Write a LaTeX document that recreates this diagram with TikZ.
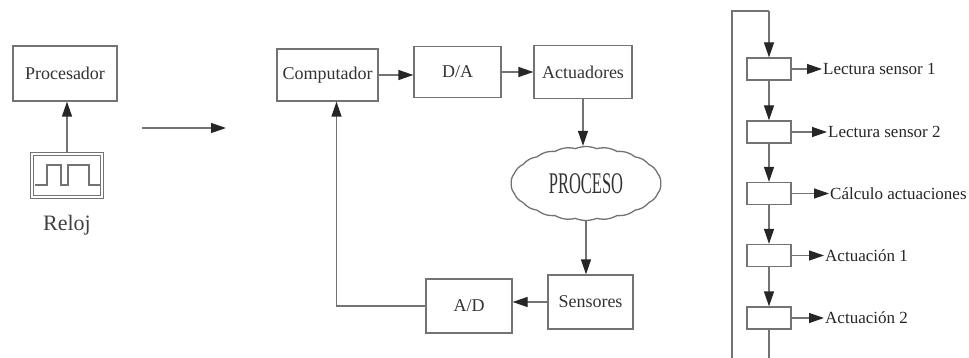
\documentclass[tikz,border=0pt]{standalone}
\usepackage{fontspec}
\setmainfont{Liberation Serif}
\usetikzlibrary{arrows.meta,shapes.symbols}
\begin{document}
\begin{tikzpicture}[x=1pt,y=-1pt,
  line/.style={draw=black!55,line width=1.3pt},
  arr/.style={line,-{Triangle[length=15pt,width=10pt,color=black!85,fill=black!85]}},
  blk/.style={line,inner sep=0pt,text=black!80,font=\fontsize{18}{20}\selectfont},
  sbox/.style={line,inner sep=0pt,minimum width=44pt,minimum height=22pt},
  lbl/.style={anchor=west,inner sep=1pt,text=black!85,font=\fontsize{17}{19}\selectfont}]
\useasboundingbox (0,0) rectangle (969,358);
% left part
\node[blk,minimum width=104pt,minimum height=55pt] (proc) at (65,73.5) {Procesador};
\node[line,double,double distance=1.6pt,minimum width=70pt,minimum height=43pt,inner sep=0pt] (clock) at (67,175.5) {};
\draw[line,line width=1.1pt] (35,185) -- (47,185) -- (47,165) -- (61,165) -- (61,185) -- (68,185) -- (68,165) -- (89,165) -- (89,185) -- (100,185);
\node[text=black!75,font=\fontsize{22}{24}\selectfont] (reloj) at (67,225) {Reloj};
\draw[arr] (clock.north) -- (clock.north |- proc.south);
\coordinate (m1) at (142,128);
\coordinate (m2) at (226,128);
\draw[arr] (m1) -- (m2);
% middle part
\node[blk,minimum width=101pt,minimum height=52pt] (comp) at (327.5,75) {Computador};
\node[blk,minimum width=87pt,minimum height=51pt] (da) at (457.5,72) {D/A};
\node[blk,minimum width=98pt,minimum height=53pt] (act) at (583,72) {Actuadores};
\node[cloud,cloud puffs=22,cloud puff arc=45,aspect=2,line,minimum width=150pt,minimum height=74pt,inner sep=0pt,text=black!80] (cloud) at (586,183.5) {\fontsize{30}{30}\selectfont\scalebox{0.55}[1]{PROCESO}};
\node[blk,minimum width=85pt,minimum height=54pt] (sens) at (590.5,302) {Sensores};
\node[blk,minimum width=86pt,minimum height=54pt] (ad) at (469,306) {A/D};
\draw[arr] (comp.east) -- (comp.east -| da.west);
\draw[arr] (da.east) -- (act.west);
\draw[arr] (act.south) -- (act.south |- cloud.north);
\draw[arr] (cloud.south) -- (cloud.south |- sens.north);
\draw[arr] (sens.west) -- (sens.west -| ad.east);
\draw[arr] (ad.west) -| ([xshift=9pt]comp.south);
% right part
\node[sbox] (b1) at (769,69) {};
\node[sbox] (b2) at (769,132) {};
\node[sbox] (b3) at (769,193.5) {};
\node[sbox] (b4) at (769,255.5) {};
\node[sbox] (b5) at (769,318) {};
\coordinate (lb) at (732,359);
\coordinate (lt) at (732,11);
\coordinate (rt) at (769,11);
\coordinate (rb) at (769,359);
\draw[line] (lb) -- (lt) -- (rt);
\draw[arr] (rt) -- (b1.north);
\draw[arr] (b1.south) -- (b2.north);
\draw[arr] (b2.south) -- (b3.north);
\draw[arr] (b3.south) -- (b4.north);
\draw[arr] (b4.south) -- (b5.north);
\draw[line] (b5.south) -- (rb);
\node[lbl] (l1) at (822,69) {Lectura sensor 1};
\node[lbl] (l2) at (827,132) {Lectura sensor 2};
\node[lbl] (l3) at (829,193.5) {Cálculo actuaciones};
\node[lbl] (l4) at (824,255.5) {Actuación 1};
\node[lbl] (l5) at (824,318) {Actuación 2};
\draw[arr] (b1.east) -- (l1.west);
\draw[arr] (b2.east) -- (l2.west);
\draw[arr] (b3.east) -- (l3.west);
\draw[arr] (b4.east) -- (l4.west);
\draw[arr] (b5.east) -- (l5.west);
\end{tikzpicture}
\end{document}
